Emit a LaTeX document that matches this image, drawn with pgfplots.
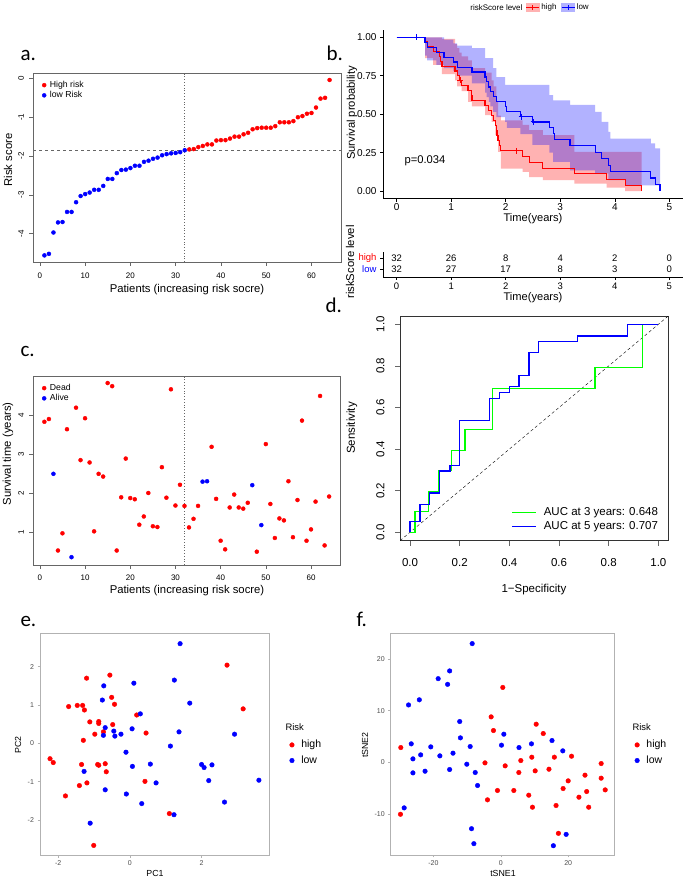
\documentclass[border=0pt]{standalone}
\usepackage{pgfplots}
\pgfplotsset{compat=1.18}
\usepackage{fontspec}
\setmainfont{Liberation Sans}
\newfontfamily\carlito{Carlito}
\newcommand{\fs}[1]{\fontsize{#1}{#1}\selectfont}
\definecolor{rgrey}{gray}{0.4}
\definecolor{ggborder}{gray}{0.7}
\definecolor{ggtext}{gray}{0.3}
\pgfplotsset{
  rbase/.style={
    scale only axis, anchor=south west,
    axis line style={rgrey, line width=0.6pt},
    tick align=outside, tick pos=left, major tick length=4pt,
    every tick/.append style={rgrey, line width=0.6pt},
    /pgf/number format/assume math mode=true,
    tick label style={font=\fs{8}},
  },
  rytl/.style={yticklabel style={xshift=#1, rotate=90, anchor=south}},
  ggbase/.style={
    scale only axis, anchor=south west,
    axis line style={ggborder, line width=0.6pt},
    tick align=outside, tick pos=left, major tick length=2.5pt,
    every tick/.append style={gray!60, line width=0.5pt},
    /pgf/number format/assume math mode=true,
    tick label style={font=\fs{7}, text=ggtext},
  },
  rpt/.style={only marks, mark=*, mark size=2pt, color=#1, mark options={draw=#1, fill=#1}},
  gpt/.style={only marks, mark=*, mark size=2.3pt, color=#1, mark options={draw=#1, fill=#1}},
  markleg/.style={legend image code/.code={\draw[##1] plot coordinates {(0pt,0pt)};}},
}
\begin{document}
\begin{tikzpicture}
\useasboundingbox (0pt,0pt) rectangle (685pt,879pt);

% ---------------- panel a ----------------
\begin{axis}[rbase, rytl=-1.5pt, xticklabel style={yshift=-3pt},
  at={(33pt,617pt)}, width=308pt, height=189pt,
  xmin=-1.52, xmax=66.52, ymin=-4.73, ymax=0.14,
  xtick={0,10,20,30,40,50,60}, ytick={-4,-3,-2,-1,0},
  markleg, legend cell align=left,
  legend style={at={(0.026,0.969)}, anchor=north west, draw=none, fill=none,
    font=\fs{8.7}, inner sep=1pt, row sep=0pt, nodes={inner sep=1.2pt},
    /tikz/every odd column/.append style={column sep=2.5pt}}]
\addplot[forget plot, dashed, rgrey] coordinates {(-1.52,-1.85) (66.52,-1.85)};
\addplot[forget plot, dotted, rgrey, thick] coordinates {(32,-4.73) (32,0.14)};
\addplot[rpt=red] table {
33 -1.83
34 -1.82
35 -1.77
36 -1.74
37 -1.70
38 -1.70
39 -1.60
40 -1.59
41 -1.59
42 -1.55
43 -1.50
44 -1.50
45 -1.44
46 -1.40
47 -1.31
48 -1.28
49 -1.27
50 -1.27
51 -1.27
52 -1.23
53 -1.13
54 -1.13
55 -1.13
56 -1.10
57 -1.00
58 -0.97
59 -0.91
60 -0.89
61 -0.75
62 -0.52
63 -0.50
64 -0.04
};
\addlegendentry{High risk}
\addplot[rpt=blue] table {
1 -4.56
2 -4.52
3 -3.97
4 -3.71
5 -3.70
6 -3.44
7 -3.44
8 -3.19
9 -3.03
10 -2.98
11 -2.94
12 -2.87
13 -2.87
14 -2.77
15 -2.59
16 -2.59
17 -2.44
18 -2.36
19 -2.35
20 -2.31
21 -2.25
22 -2.25
23 -2.15
24 -2.12
25 -2.07
26 -2.04
27 -1.98
28 -1.95
29 -1.93
30 -1.92
31 -1.90
32 -1.85
};
\addlegendentry{low Risk}
\end{axis}

% ---------------- panel c ----------------
\begin{axis}[rbase, rytl=-1.5pt, xticklabel style={yshift=-2pt},
  at={(33pt,314pt)}, width=307.5pt, height=189pt,
  xmin=-1.52, xmax=66.52, ymin=0.17, ymax=5.0,
  xtick={0,10,20,30,40,50,60}, ytick={1,2,3,4},
  markleg, legend cell align=left,
  legend style={at={(0.026,0.969)}, anchor=north west, draw=none, fill=none,
    font=\fs{8.7}, inner sep=1pt, row sep=0pt, nodes={inner sep=1.2pt},
    /tikz/every odd column/.append style={column sep=2.5pt}}]
\addplot[forget plot, dotted, rgrey, thick] coordinates {(32,0.17) (32,5.0)};
\addplot[rpt=red] table {
1 3.83
2 3.90
4 0.54
5 0.98
6 3.64
8 4.19
9 2.85
10 3.92
11 2.79
12 1.03
13 2.50
14 2.43
15 4.82
16 4.74
17 0.54
18 1.90
19 2.89
20 1.88
21 1.85
22 1.20
23 1.41
24 2.01
25 1.16
26 1.14
27 2.67
28 1.89
29 4.66
30 1.69
31 2.22
32 1.68
33 1.13
34 1.35
35 1.68
38 3.19
39 1.86
40 0.79
41 0.57
42 1.64
43 1.97
44 1.64
45 1.61
46 1.76
48 0.51
50 3.26
51 1.73
52 0.86
53 1.36
54 1.31
55 2.31
56 0.88
57 1.83
58 3.86
59 0.79
60 1.08
61 1.79
62 4.49
63 0.67
64 1.92
};
\addlegendentry{Dead}
\addplot[rpt=blue] table {
3 2.50
7 0.37
36 2.30
37 2.31
47 2.21
49 1.19
};
\addlegendentry{Alive}
\end{axis}

% ---------------- panel b (KM) ----------------
\begin{axis}[scale only axis, anchor=south west, at={(383pt,680.3pt)}, width=300pt, height=169.1pt,
  xmin=-0.25, xmax=5.25, ymin=-0.05, ymax=1.05,
  axis x line*=bottom, axis y line*=left, axis line style={black, line width=0.6pt, -},
  tick align=outside, major tick length=3pt, every tick/.append style={black, line width=0.6pt},
  xtick={0,1,2,3,4,5}, ytick={0,0.25,0.5,0.75,1}, yticklabels={0.00,0.25,0.50,0.75,1.00},
  /pgf/number format/assume math mode=true, tick label style={font=\fs{10}},
  xticklabel style={yshift=2pt},
  legend columns=2, legend cell align=left,
  legend style={at={(0.475,1.13)}, anchor=west, draw=none, fill=none, font=\fs{8},
    inner sep=0pt, nodes={inner sep=1.5pt}, /tikz/every even column/.append style={column sep=3pt}}]
\addplot[fill=red, fill opacity=0.3, draw=none, forget plot] coordinates {
(0.52,1)(0.83,1)(0.83,0.99)(1.07,0.99)(1.07,0.955)(1.11,0.955)(1.11,0.93)(1.15,0.93)(1.15,0.90)(1.19,0.90)(1.19,0.875)(1.31,0.875)(1.31,0.85)(1.38,0.85)(1.38,0.80)(1.62,0.80)(1.62,0.77)(1.74,0.77)(1.74,0.72)(1.78,0.72)(1.78,0.68)(1.83,0.68)(1.83,0.58)(1.86,0.58)(1.86,0.49)(1.91,0.49)(1.91,0.46)(2.31,0.46)(2.31,0.43)(2.43,0.43)(2.43,0.396)(2.68,0.396)(2.68,0.363)(3.26,0.363)(3.26,0.254)(4.49,0.254)
(4.49,0)(4.19,0)(4.19,0.022)(3.85,0.022)(3.85,0.048)(3.26,0.048)(3.26,0.07)(2.68,0.07)(2.68,0.091)(2.43,0.091)(2.43,0.124)(2.31,0.124)(2.31,0.146)(1.91,0.146)(1.91,0.254)(1.86,0.254)(1.86,0.363)(1.81,0.363)(1.81,0.45)(1.74,0.45)(1.74,0.494)(1.62,0.494)(1.62,0.55)(1.38,0.55)(1.38,0.58)(1.31,0.58)(1.31,0.65)(1.19,0.65)(1.19,0.68)(1.11,0.68)(1.11,0.72)(1.07,0.72)(1.07,0.76)(0.83,0.76)(0.83,0.82)(0.67,0.82)(0.67,0.864)(0.52,0.864)(0.52,1)};
\addplot[fill=blue, fill opacity=0.3, draw=none, forget plot] coordinates {
(0.52,1)(0.87,1)(0.87,0.985)(1.04,0.985)(1.04,0.96)(1.11,0.96)(1.11,0.946)(1.38,0.946)(1.38,0.93)(1.62,0.93)(1.62,0.864)(1.77,0.864)(1.77,0.80)(1.83,0.80)(1.83,0.74)(1.99,0.74)(1.99,0.69)(2.80,0.69)(2.80,0.624)(2.87,0.624)(2.87,0.59)(3.18,0.59)(3.18,0.56)(3.64,0.56)(3.64,0.515)(3.76,0.515)(3.76,0.45)(3.88,0.45)(3.88,0.385)(3.92,0.385)(3.92,0.34)(4.66,0.34)(4.66,0.31)(4.74,0.31)(4.74,0.277)(4.83,0.277)
(4.83,0.037)(4.19,0.037)(4.19,0.07)(3.88,0.07)(3.88,0.115)(3.64,0.115)(3.64,0.135)(3.18,0.135)(3.18,0.19)(2.87,0.19)(2.87,0.25)(2.80,0.25)(2.80,0.30)(2.49,0.30)(2.49,0.37)(2.27,0.37)(2.27,0.41)(2.02,0.41)(2.02,0.45)(1.99,0.45)(1.99,0.48)(1.83,0.48)(1.83,0.515)(1.77,0.515)(1.77,0.55)(1.72,0.55)(1.72,0.58)(1.69,0.58)(1.69,0.61)(1.65,0.61)(1.65,0.64)(1.62,0.64)(1.62,0.70)(1.38,0.70)(1.38,0.75)(1.11,0.75)(1.11,0.78)(1.04,0.78)(1.04,0.80)(0.87,0.80)(0.87,0.82)(0.73,0.82)(0.73,0.85)(0.56,0.85)(0.56,0.88)(0.52,0.88)(0.52,1)};
\addplot[red, line width=1.2pt, const plot,
  legend image code/.code={\fill[red!30] (0pt,-4pt) rectangle (13pt,4pt); \draw[red, line width=1pt] (0pt,0pt) -- (13pt,0pt) (6.5pt,-2.5pt) -- (6.5pt,2.5pt);}]
 coordinates {(0,1)(0.52,0.969)(0.56,0.938)(0.67,0.906)(0.78,0.875)(0.80,0.844)(0.83,0.812)(1.07,0.781)(1.11,0.75)(1.15,0.719)(1.19,0.686)(1.31,0.654)(1.37,0.621)(1.38,0.588)(1.62,0.556)(1.68,0.523)(1.74,0.49)(1.78,0.458)(1.81,0.425)(1.83,0.392)(1.84,0.359)(1.86,0.327)(1.88,0.294)(1.91,0.261)(2.31,0.224)(2.43,0.187)(2.68,0.149)(3.26,0.112)(3.85,0.075)(4.19,0.037)(4.49,0)};
\addlegendentry{high}
\addplot[blue, line width=1.2pt, const plot,
  legend image code/.code={\fill[blue!30] (0pt,-4pt) rectangle (13pt,4pt); \draw[blue, line width=1pt] (0pt,0pt) -- (13pt,0pt) (6.5pt,-2.5pt) -- (6.5pt,2.5pt);}]
 coordinates {(0,1)(0.52,0.968)(0.56,0.935)(0.73,0.903)(0.87,0.871)(1.04,0.839)(1.11,0.806)(1.38,0.774)(1.62,0.742)(1.65,0.710)(1.69,0.677)(1.72,0.645)(1.77,0.613)(1.83,0.581)(1.99,0.548)(2.02,0.516)(2.27,0.484)(2.49,0.449)(2.80,0.412)(2.87,0.374)(2.89,0.337)(3.18,0.295)(3.64,0.253)(3.76,0.21)(3.88,0.168)(3.92,0.126)(4.66,0.084)(4.74,0.042)(4.83,0)};
\addlegendentry{low}
\addplot[red, only marks, mark=+, mark size=3pt, line width=1pt, forget plot] coordinates {(1.17,0.719)(2.2,0.261)};
\addplot[blue, only marks, mark=+, mark size=3pt, line width=1pt, forget plot] coordinates {(0.37,1.0)(2.29,0.484)(2.51,0.449)};
\end{axis}

% ---------------- risk table ----------------
\begin{axis}[scale only axis, anchor=south west, at={(383pt,602pt)}, width=300pt, height=25pt,
  xmin=-0.25, xmax=5.25, ymin=0.273, ymax=2.545,
  axis x line*=bottom, axis y line*=left, axis line style={black, line width=0.6pt, -},
  tick align=outside, major tick length=3pt, every tick/.append style={black, line width=0.6pt},
  xtick={0,1,2,3,4,5}, ytick={1,2}, yticklabels={\textcolor{blue}{low},\textcolor{red}{high}},
  /pgf/number format/assume math mode=true, tick label style={font=\fs{9.5}},
  xticklabel style={yshift=1pt}]
\addplot[only marks, mark=none, nodes near coords, point meta=explicit symbolic,
  nodes near coords style={anchor=center, font=\fs{9.5}}] table[meta=n] {
t y n
0 2 32
1 2 26
2 2 8
3 2 4
4 2 2
5 2 0
0 1 32
1 1 27
2 1 17
3 1 8
4 1 3
5 1 0
};
\end{axis}

% ---------------- panel d (ROC) ----------------
\begin{axis}[rbase, rytl=-7pt, xticklabel style={yshift=-9pt},
  at={(400.1pt,338.4pt)}, width=268.2pt, height=224.6pt,
  axis line style={black!80, line width=0.6pt}, major tick length=5pt,
  xmin=-0.04, xmax=1.04, ymin=-0.04, ymax=1.04,
  xtick={0,0.2,0.4,0.6,0.8,1}, ytick={0,0.2,0.4,0.6,0.8,1},
  xticklabels={0.0,0.2,0.4,0.6,0.8,1.0}, yticklabels={0.0,0.2,0.4,0.6,0.8,1.0},
  tick label style={font=\fs{11.5}},
  legend image code/.code={\draw[#1] (0pt,0pt) -- (24pt,0pt);},
  legend cell align=left,
  legend style={at={(0.415,0.155)}, anchor=north west, draw=none, fill=none, font=\fs{11.5},
    inner sep=0pt, row sep=1pt, nodes={inner sep=1.8pt},
    /tikz/every odd column/.append style={column sep=5pt}}]
\addplot[forget plot, black, dash pattern=on 3pt off 2.5pt] coordinates {(-0.04,-0.04) (1.04,1.04)};
\addplot[green, line width=1.4pt] coordinates {(0,0)(0.020,0)(0.020,0.099)(0.074,0.099)(0.074,0.196)(0.114,0.196)(0.114,0.296)(0.168,0.296)(0.168,0.394)(0.221,0.394)(0.221,0.495)(0.333,0.495)(0.333,0.691)(0.745,0.691)(0.745,0.792)(0.937,0.792)(0.937,1.0)(1.0,1.0)};
\addlegendentry{AUC at 3 years: 0.648}
\addplot[blue, line width=1.4pt] coordinates {(0,0)(0,0.051)(0.040,0.051)(0.040,0.135)(0.078,0.135)(0.078,0.188)(0.118,0.188)(0.118,0.295)(0.161,0.295)(0.161,0.32)(0.199,0.32)(0.199,0.537)(0.319,0.537)(0.319,0.644)(0.36,0.644)(0.36,0.671)(0.40,0.671)(0.40,0.70)(0.439,0.70)(0.439,0.753)(0.479,0.753)(0.479,0.864)(0.517,0.864)(0.517,0.917)(0.675,0.917)(0.675,0.944)(0.875,0.944)(0.875,1.0)(1.0,1.0)};
\addlegendentry{AUC at 5 years: 0.707}
\end{axis}

% ---------------- panel e (PCA) ----------------
\begin{axis}[ggbase, at={(40pt,24pt)}, width=229.3pt, height=221.7pt,
  xmin=-2.51, xmax=3.89, ymin=-2.91, ymax=2.87,
  xtick={-2,0,2}, ytick={-2,-1,0,1,2},
  markleg, legend cell align=left,
  legend style={at={(1.088,0.527)}, anchor=north west, draw=none, fill=none, font=\fs{10.5},
    inner sep=0pt, row sep=2.5pt, nodes={inner sep=2pt},
    /tikz/every odd column/.append style={column sep=5pt}}]
\addplot[gpt=red] table {
-2.23 -0.40
-2.14 -0.50
-1.80 -1.37
-1.71 0.96
-1.47 0.99
-1.41 -1.10
-1.35 -0.55
-1.32 0.99
-1.30 0.08
-1.27 0.87
-1.21 1.70
-1.20 -1.03
-1.12 0.56
-1.01 -2.66
-0.98 0.24
-0.90 -0.55
-0.87 -0.57
-0.87 0.57
-0.87 0.52
-0.74 0.30
-0.69 -0.53
-0.66 -0.74
-0.56 1.78
-0.51 1.20
-0.48 0.49
-0.43 1.02
0.19 0.74
0.42 -0.99
0.45 0.27
1.10 -1.83
2.71 2.04
3.16 0.90
};
\addlegendentry{high}
\addplot[gpt=blue] table {
-1.28 -0.73
-1.11 -2.08
-0.77 1.13
-0.74 0.21
-0.73 1.50
-0.69 -1.21
-0.69 0.41
-0.45 0.32
-0.42 0.19
-0.25 0.24
-0.11 -0.23
-0.10 -1.32
0.06 0.38
0.07 -0.60
0.11 1.57
0.29 0.77
0.33 -1.57
0.57 -0.54
0.73 -1.03
1.13 -0.07
1.23 -1.86
1.24 1.65
1.37 0.30
1.40 2.60
1.67 1.05
2.00 -0.55
2.07 -0.63
2.20 -0.97
2.29 -0.56
2.64 -1.53
2.92 0.24
3.60 -0.96
};
\addlegendentry{low}
\end{axis}

% ---------------- panel f (tSNE) ----------------
\begin{axis}[ggbase, at={(390.7pt,24pt)}, width=223.6pt, height=221.7pt,
  xmin=-32.7, xmax=33.7, ymin=-18.0, ymax=25.0,
  xtick={-20,0,20}, ytick={-10,0,10,20},
  markleg, legend cell align=left,
  legend style={at={(1.091,0.527)}, anchor=north west, draw=none, fill=none, font=\fs{10.5},
    inner sep=0pt, row sep=2.5pt, nodes={inner sep=2pt},
    /tikz/every odd column/.append style={column sep=5pt}}]
\addplot[gpt=red] table {
-29.8 -10.1
-29.7 2.84
-4.7 -0.13
-3.96 -7.30
-2.87 8.79
-2.18 6.14
-0.99 -5.49
0.59 14.5
1.29 -0.71
3.86 -5.49
5.35 -2.00
5.94 0.32
8.3 -6.40
9.2 0.97
9.4 -8.73
10.2 -1.68
10.5 7.37
12.6 5.56
14.3 -1.36
15.9 0.97
16.4 -8.40
17.1 -13.8
18.5 -5.11
20.0 -3.62
21.0 1.16
23.2 -6.79
25.0 -2.52
25.5 -5.69
26.1 -8.73
29.8 -0.26
29.8 -3.10
31.0 -5.37
};
\addlegendentry{high}
\addplot[gpt=blue] table {
-28.7 -8.86
-27.4 11.1
-26.6 3.56
-26.1 0.65
-26.1 -2.07
-24.2 12.1
-23.8 1.42
-22.5 -1.75
-20.8 2.97
-18.6 16.2
-18.1 1.23
-15.8 15.1
-15.2 17.7
-15.2 -1.42
-14.2 1.75
-12.2 7.89
-12.0 4.72
-10.1 -0.39
-9.1 3.04
-8.7 -12.9
-8.5 23.0
-8.0 -15.8
-7.6 -2.00
-6.9 -4.52
0.2 3.30
0.9 5.43
5.4 2.84
9.1 3.56
15.2 4.20
15.6 -16.2
18.4 2.20
19.4 -14.0
};
\addlegendentry{low}
\end{axis}

% ---------------- labels ----------------
\node[anchor=base west, font=\carlito\fs{21}] at (17pt,818.3pt) {a.};
\node[anchor=base west, font=\carlito\fs{21}] at (323pt,818.3pt) {b.};
\node[anchor=base west, font=\carlito\fs{21}] at (17pt,522.3pt) {c.};
\node[anchor=base west, font=\carlito\fs{21}] at (322pt,566pt) {d.};
\node[anchor=base west, font=\carlito\fs{21}] at (17pt,252.3pt) {e.};
\node[anchor=base west, font=\carlito\fs{21}] at (353pt,252.3pt) {f.};

\node[rotate=90, font=\fs{11.3}] at (8pt,719pt) {Risk score};
\node[font=\fs{11.3}] at (187pt,589pt) {Patients (increasing risk socre)};
\node[rotate=90, font=\fs{11.3}] at (8pt,425pt) {Survival time (years)};
\node[font=\fs{11.3}] at (187pt,288pt) {Patients (increasing risk socre)};

\node[rotate=90, font=\fs{11.2}] at (352pt,766pt) {Survival probability};
\node[font=\fs{11.1}] at (533pt,660pt) {Time(years)};
\node[anchor=west, font=\fs{11.2}] at (401pt,718pt) {p=0.034};
\node[anchor=east, font=\fs{8}] at (526pt,871pt) {riskScore level};
\node[rotate=90, font=\fs{11.3}] at (350pt,617pt) {riskScore level};
\node[font=\fs{11.1}] at (533pt,581pt) {Time(years)};

\node[rotate=90, font=\fs{11.5}] at (352pt,451pt) {Sensitivity};
\node[font=\fs{11.5}] at (534pt,289pt) {1−Specificity};

\node[rotate=90, font=\fs{8.8}] at (18pt,134pt) {PC2};
\node[font=\fs{8.8}] at (155pt,6pt) {PC1};
\node[anchor=west, font=\fs{9.4}] at (282pt,152pt) {Risk};
\node[rotate=90, font=\fs{8.8}] at (365pt,134pt) {tSNE2};
\node[font=\fs{8.8}] at (503pt,6pt) {tSNE1};
\node[anchor=west, font=\fs{9.4}] at (629pt,152pt) {Risk};
\end{tikzpicture}
\end{document}
